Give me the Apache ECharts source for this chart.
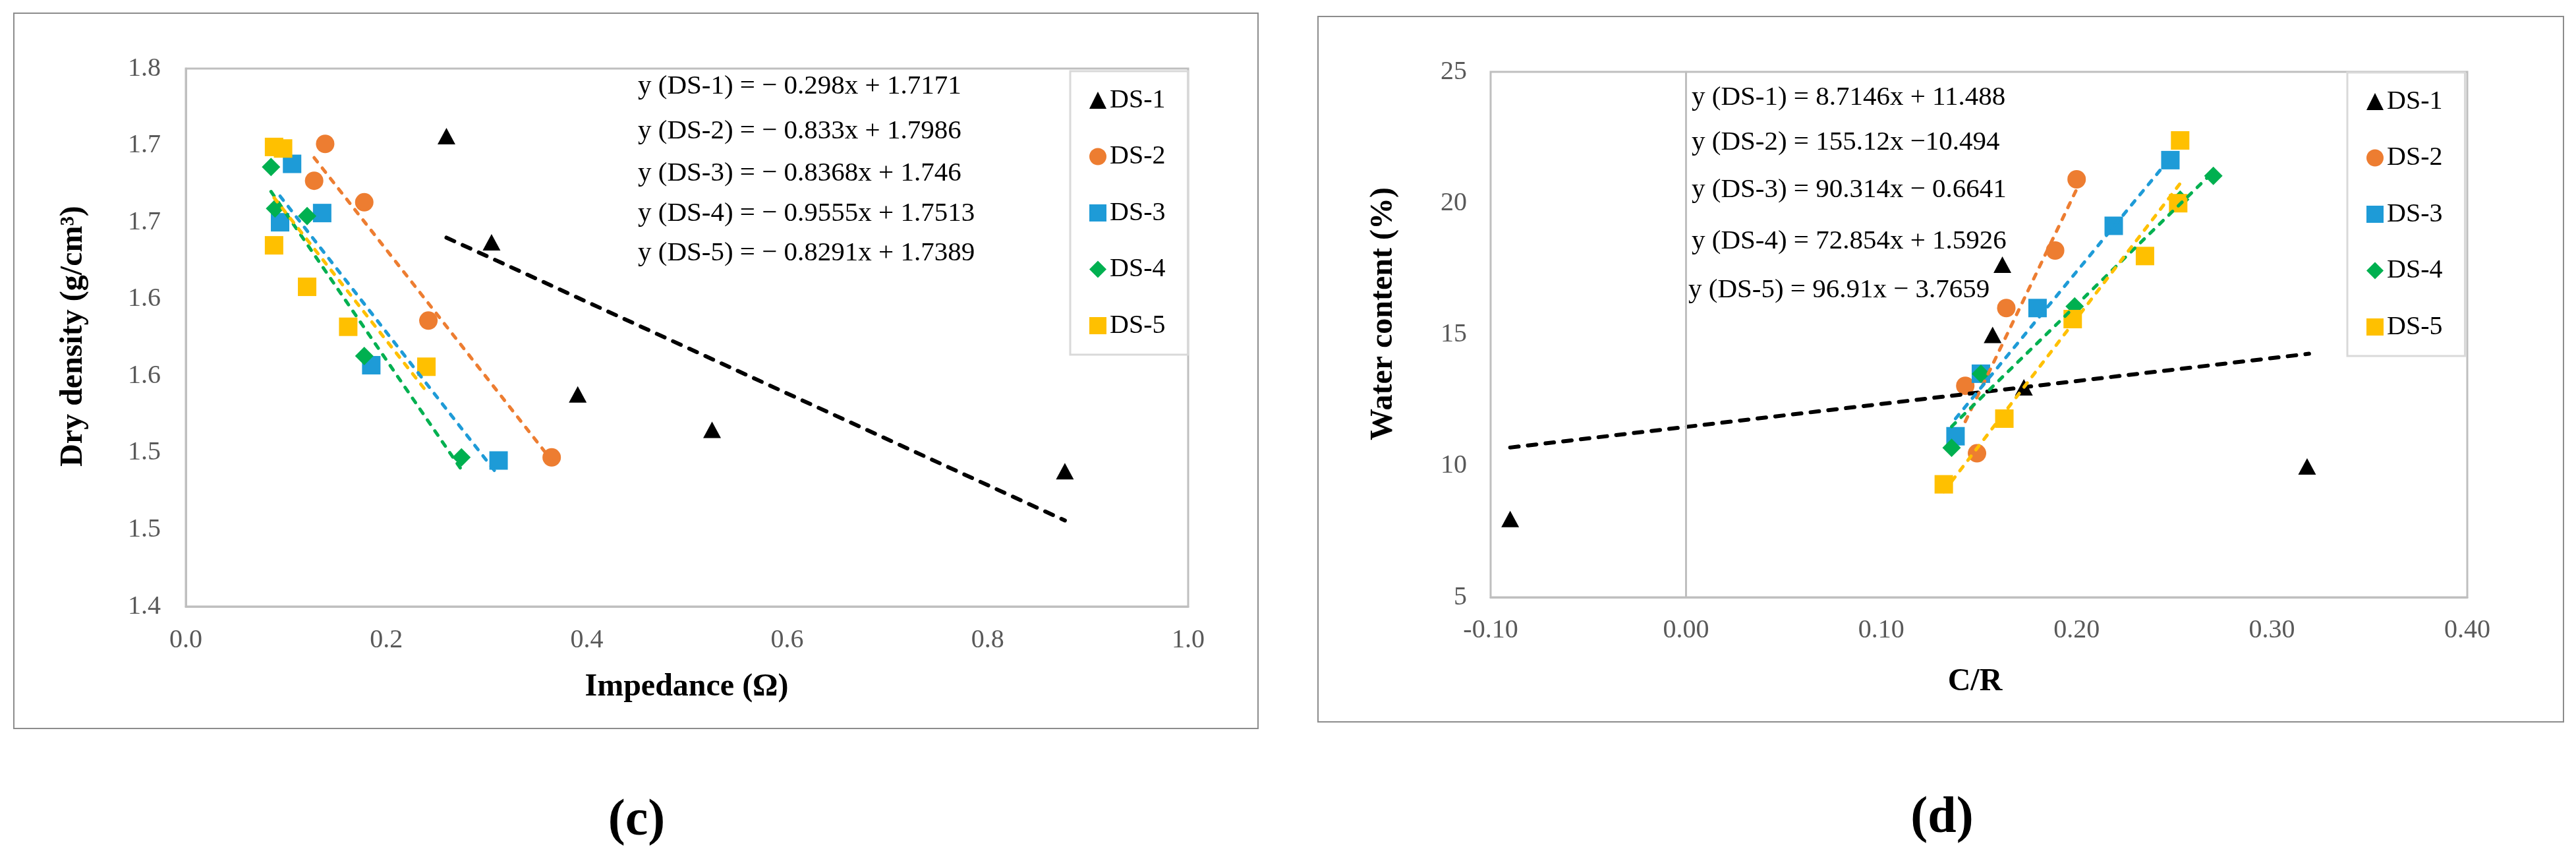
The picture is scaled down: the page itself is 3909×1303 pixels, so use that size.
<!DOCTYPE html>
<html lang="en" style="height: 100%">
<head>
  <meta charset="utf-8">
</head>
<body style="height: 100%; margin: 0; background: #fff">
  <div id="container" style="width: 3909px; height: 1303px"></div>
  <script src="https://cdn.jsdelivr.net/npm/echarts@6.0.0/dist/echarts.min.js"></script>
  <script type="text/javascript">
    // (c) impedance vs dry density
    var cDS1 = [[0.260, 1.706], [0.305, 1.637], [0.391, 1.538], [0.525, 1.515], [0.877, 1.488]];
    var cDS2 = [[0.139, 1.701], [0.128, 1.677], [0.178, 1.663], [0.242, 1.586], [0.365, 1.497]];
    var cDS3 = [[0.106, 1.688], [0.094, 1.650], [0.136, 1.656], [0.185, 1.557], [0.312, 1.495]];
    var cDS4 = [[0.085, 1.686], [0.089, 1.659], [0.121, 1.654], [0.178, 1.563], [0.275, 1.497]];
    var cDS5 = [[0.088, 1.699], [0.097, 1.698], [0.088, 1.635], [0.121, 1.608], [0.162, 1.582], [0.240, 1.556]];
    // trendline ends (c)
    var cTrend1 = [[0.260, 1.640], [0.877, 1.456]];
    var cTrend2 = [[0.128, 1.692], [0.365, 1.495]];
    var cTrend3 = [[0.094, 1.667], [0.312, 1.485]];
    var cTrend4 = [[0.085, 1.670], [0.275, 1.489]];
    var cTrend5 = [[0.088, 1.666], [0.240, 1.540]];

    // (d) C/R vs water content
    var dDS1 = [[-0.090, 7.98], [0.157, 14.99], [0.162, 17.66], [0.173, 12.99], [0.318, 9.98]];
    var dDS2 = [[0.143, 13.05], [0.149, 10.48], [0.164, 16.01], [0.189, 18.20], [0.200, 20.91]];
    var dDS3 = [[0.138, 11.13], [0.151, 13.51], [0.180, 16.01], [0.219, 19.14], [0.248, 21.64]];
    var dDS4 = [[0.136, 10.69], [0.151, 13.51], [0.199, 16.07], [0.253, 20.14], [0.270, 21.04]];
    var dDS5 = [[0.132, 9.30], [0.163, 11.80], [0.198, 15.59], [0.235, 17.99], [0.252, 20.00], [0.253, 22.39]];
    var dTrend1 = [[-0.090, 10.70], [0.319, 14.27]];
    var dTrend2 = [[0.143, 11.69], [0.200, 20.53]];
    var dTrend3 = [[0.138, 11.80], [0.248, 21.73]];
    var dTrend4 = [[0.136, 11.50], [0.270, 21.20]];
    var dTrend5 = [[0.132, 9.02], [0.253, 20.75]];

    var names = ['DS-1', 'DS-2', 'DS-3', 'DS-4', 'DS-5'];
    var colors = ['#000000', '#ED7D31', '#1E9BD7', '#00B050', '#FFC000'];
    var symbols = ['triangle', 'circle', 'rect', 'diamond', 'rect'];

    var cEquations = [
      'y (DS-1) = − 0.298x + 1.7171',
      'y (DS-2) = − 0.833x + 1.7986',
      'y (DS-3) = − 0.8368x + 1.746',
      'y (DS-4) = − 0.9555x + 1.7513',
      'y (DS-5) = − 0.8291x + 1.7389'
    ];
    var dEquations = [
      'y (DS-1) = 8.7146x + 11.488',
      'y (DS-2) = 155.12x −10.494',
      'y (DS-3) = 90.314x − 0.6641',
      'y (DS-4) = 72.854x + 1.5926',
      'y (DS-5) = 96.91x − 3.7659'
    ];

    var SERIF = '"Liberation Serif", "Times New Roman", serif';
    var GRAY = '#BFBFBF';

    var dom = document.getElementById('container');
    var myChart = echarts.init(dom, null, { renderer: 'canvas' });

    function axisBase() {
      return {
        type: 'value',
        axisLine: { show: true, lineStyle: { color: GRAY, width: 3 } },
        axisTick: { show: false },
        splitLine: { show: false },
        axisLabel: { color: '#595959', fontFamily: SERIF, fontSize: 40 }
      };
    }

    var xC = axisBase();
    xC.gridIndex = 0; xC.min = 0; xC.max = 1; xC.interval = 0.2;
    xC.axisLabel.margin = 31;
    xC.axisLabel.formatter = function (v) { return v.toFixed(1); };

    var yC = axisBase();
    yC.gridIndex = 0; yC.min = 1.4; yC.max = 1.75; yC.interval = 0.05;
    yC.axisLabel.margin = 38;
    // Excel shows the 0.05 steps rounded to one decimal
    yC.axisLabel.formatter = function (v) { return (Math.round(v * 10 + 1e-6) / 10).toFixed(1); };

    var xD = axisBase();
    xD.gridIndex = 1; xD.min = -0.1; xD.max = 0.4; xD.interval = 0.1;
    xD.axisLabel.margin = 30;
    xD.axisLabel.formatter = function (v) { return v.toFixed(2); };

    var yD = axisBase();
    yD.gridIndex = 1; yD.min = 5; yD.max = 25; yD.interval = 5;
    yD.axisLabel.margin = 36;

    var series = [];
    var cPts = [cDS1, cDS2, cDS3, cDS4, cDS5];
    var dPts = [dDS1, dDS2, dDS3, dDS4, dDS5];
    var cTr = [cTrend1, cTrend2, cTrend3, cTrend4, cTrend5];
    var dTr = [dTrend1, dTrend2, dTrend3, dTrend4, dTrend5];

    [[cPts, cTr, 0], [dPts, dTr, 1]].forEach(function (set) {
      for (var i = 0; i < 5; i++) {
        series.push({
          name: names[i],
          type: 'scatter',
          xAxisIndex: set[2],
          yAxisIndex: set[2],
          symbol: symbols[i],
          symbolSize: i === 0 ? [27, 25] : 28,
          itemStyle: { color: colors[i], opacity: 1 },
          data: set[0][i],
          z: 2
        });
      }
      for (var j = 0; j < 5; j++) {
        series.push({
          name: names[j] + ' trend',
          type: 'line',
          xAxisIndex: set[2],
          yAxisIndex: set[2],
          showSymbol: false,
          symbol: 'none',
          lineStyle: {
            color: colors[j],
            width: j === 0 ? 6 : 5,
            type: j === 0 ? [13, 14] : [8, 12],
            cap: 'round'
          },
          data: set[1][j],
          z: 3
        });
      }
    });

    // vertical axis line at C/R = 0 in (d)
    series.push({
      name: 'zero',
      type: 'line',
      xAxisIndex: 1,
      yAxisIndex: 1,
      data: [],
      markLine: {
        silent: true,
        symbol: 'none',
        label: { show: false },
        lineStyle: { color: GRAY, width: 3, type: 'solid' },
        data: [{ xAxis: 0 }]
      },
      z: 1
    });

    var graphics = [
      { type: 'rect', shape: { x: 21, y: 20, width: 1888, height: 1085 }, style: { fill: null, stroke: '#8C8C8C', lineWidth: 2 } },
      { type: 'rect', shape: { x: 2000, y: 25, width: 1890, height: 1070 }, style: { fill: null, stroke: '#8C8C8C', lineWidth: 2 } },
      { type: 'text', x: 112, y: 510, rotation: Math.PI / 2, style: { text: 'Dry density (g/cm³)', font: 'bold 48px ' + SERIF, fill: '#000', align: 'center', verticalAlign: 'middle' } },
      { type: 'text', x: 1042, y: 1043, style: { text: 'Impedance (Ω)', font: 'bold 48px ' + SERIF, fill: '#000', align: 'center', verticalAlign: 'middle' } },
      { type: 'text', x: 2100, y: 476, rotation: Math.PI / 2, style: { text: 'Water content (%)', font: 'bold 48px ' + SERIF, fill: '#000', align: 'center', verticalAlign: 'middle' } },
      { type: 'text', x: 2997, y: 1035, style: { text: 'C/R', font: 'bold 48px ' + SERIF, fill: '#000', align: 'center', verticalAlign: 'middle' } },
      { type: 'text', x: 966, y: 1246, style: { text: '(c)', font: 'bold 78px ' + SERIF, fill: '#000', align: 'center', verticalAlign: 'middle' } },
      { type: 'text', x: 2947, y: 1242, style: { text: '(d)', font: 'bold 78px ' + SERIF, fill: '#000', align: 'center', verticalAlign: 'middle' } }
    ];
    var cEqY = [131, 199, 263, 324, 384];
    var dEqY = [148, 216, 288, 366, 440];
    var dEqX = [2567, 2567, 2567, 2567, 2562];
    for (var k = 0; k < 5; k++) {
      graphics.push({ type: 'text', x: 968, y: cEqY[k], z: 10, style: { text: cEquations[k], font: '41px ' + SERIF, fill: '#000', align: 'left', verticalAlign: 'middle' } });
      graphics.push({ type: 'text', x: dEqX[k], y: dEqY[k], z: 10, style: { text: dEquations[k], font: '41px ' + SERIF, fill: '#000', align: 'left', verticalAlign: 'middle' } });
    }

    function legendAt(left, top) {
      return {
        data: names,
        orient: 'vertical',
        left: left,
        top: top,
        itemWidth: 26,
        itemHeight: 26,
        itemGap: 45.5,
        padding: [24, 34, 24, 29],
        backgroundColor: '#fff',
        borderColor: '#D9D9D9',
        borderWidth: 3,
        selectedMode: false,
        textStyle: { fontFamily: SERIF, fontSize: 40, color: '#000' }
      };
    }

    var option = {
      animation: false,
      backgroundColor: '#fff',
      grid: [
        { left: 282, top: 104, width: 1521, height: 816, show: true, borderColor: GRAY, borderWidth: 3 },
        { left: 2262, top: 109, width: 1482, height: 797, show: true, borderColor: GRAY, borderWidth: 3 }
      ],
      xAxis: [xC, xD],
      yAxis: [yC, yD],
      legend: [legendAt(1624, 108), legendAt(3562, 110)],
      graphic: graphics,
      series: series
    };

    myChart.setOption(option);
    window.addEventListener('resize', myChart.resize);
  </script>
</body>
</html>
